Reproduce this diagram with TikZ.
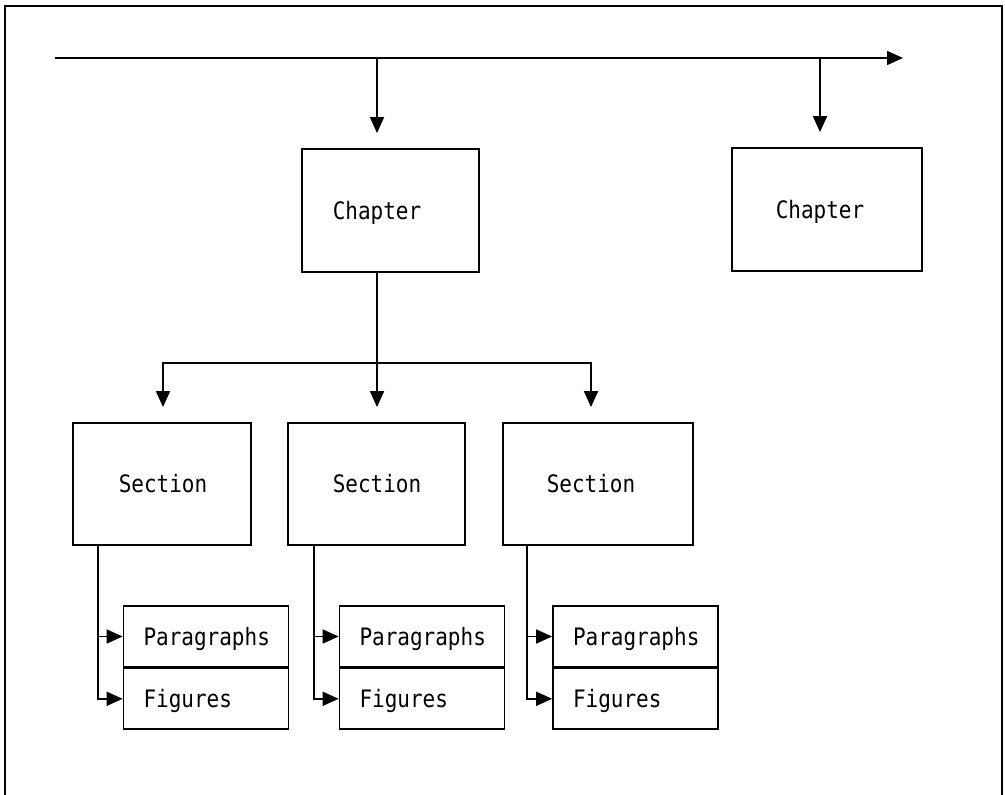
\documentclass[tikz,border=0pt]{standalone}
\usepackage{fontspec}
\usetikzlibrary{arrows.meta}
\newfontfamily\boxfont[FakeStretch=0.875]{DejaVu Sans Mono}

\tikzset{
  conn/.style={line width=1.8pt, line cap=rect},
  arr/.style={conn, -{Triangle[length=16pt 0,width=14pt 0]}},
  drop/.style={arr, shorten >=15pt},
  unitbox/.style={draw, line width=1.8pt, inner sep=0pt},
  lbl/.style={font=\boxfont\fontsize{24}{24}\selectfont, inner sep=0pt,
              text height=17.5pt, text depth=0pt},
  listrow/.style={unitbox, lbl, minimum width=165pt, minimum height=60.5pt,
                  text width=125pt, align=left},
}

\begin{document}
\begin{tikzpicture}[x=1pt,y=-1pt]
  \useasboundingbox (0,0) rectangle (1005,795);

  % open frame (no bottom edge)
  \draw[line width=1.8pt] (5,795) -- (5,6) -- (1002,6) -- (1002,795);

  % main sequence line
  \coordinate (start) at (56,58);
  \coordinate (end)   at (903,58);
  \coordinate (tap1)  at (377,58);
  \coordinate (tap2)  at (820,58);
  \draw[arr] (start) -- (end);

  % chapters
  \node[unitbox, minimum width=177pt, minimum height=123pt] (ch1) at (390.5,210.5) {};
  \node[lbl] (ch1t) at (tap1 |- ch1.center) {Chapter};
  \node[unitbox, minimum width=190pt, minimum height=123pt] (ch2) at (827,209.5) {};
  \node[lbl] (ch2t) at (tap2 |- ch2.center) {Chapter};

  \draw[drop] (tap1) -- (tap1 |- ch1.north);
  \draw[drop] (tap2) -- (tap2 |- ch2.north);

  % sections
  \coordinate (jl) at (163,363);
  \coordinate (jr) at (591,363);
  \node[unitbox, minimum width=178pt, minimum height=122pt] (sec1) at (162,484) {};
  \node[unitbox, minimum width=177pt, minimum height=122pt] (sec2) at (376.5,484) {};
  \node[unitbox, minimum width=190pt, minimum height=122pt] (sec3) at (598,484) {};
  \node[lbl] (sec1t) at (jl |- sec1.center) {Section};
  \node[lbl] (sec2t) at (tap1 |- sec2.center) {Section};
  \node[lbl] (sec3t) at (jr |- sec3.center) {Section};

  \draw[drop] (ch1.south -| tap1) -- (tap1 |- sec2.north);
  \draw[drop] (jr) -- (jl) -- (jl |- sec1.north);
  \draw[drop] (jr) -- (jr |- sec3.north);

  % paragraph / figure lists
  \node[listrow] (par1) at (206,636.5) {Paragraphs};
  \node[listrow, anchor=north] (fig1) at (par1.south) {Figures};
  \node[listrow] (par2) at (422,636.5) {Paragraphs};
  \node[listrow, anchor=north] (fig2) at (par2.south) {Figures};
  \node[listrow] (par3) at (635.5,636.5) {Paragraphs};
  \node[listrow, anchor=north] (fig3) at (par3.south) {Figures};

  \coordinate (v1) at ([xshift=-25pt]par1.west);
  \coordinate (v2) at ([xshift=-25pt]par2.west);
  \coordinate (v3) at ([xshift=-25pt]par3.west);

  \draw[arr] (v1 |- sec1.south) |- (fig1.west);
  \draw[arr] (v1) -- (par1.west);
  \draw[arr] (v2 |- sec2.south) |- (fig2.west);
  \draw[arr] (v2) -- (par2.west);
  \draw[arr] (v3 |- sec3.south) |- (fig3.west);
  \draw[arr] (v3) -- (par3.west);
\end{tikzpicture}
\end{document}
